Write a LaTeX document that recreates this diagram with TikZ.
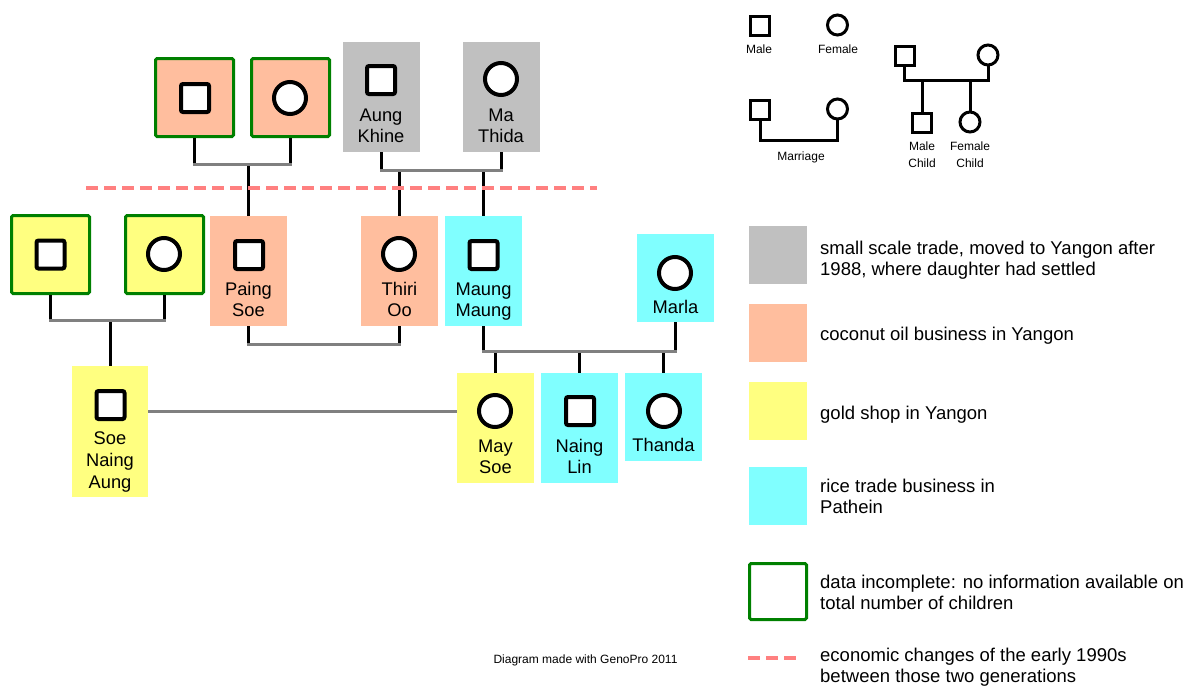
\documentclass[tikz,border=0pt]{standalone}
\usepackage{fontspec}
\setmainfont{Liberation Sans}
\definecolor{peach}{RGB}{255,190,158}
\definecolor{trade}{RGB}{192,192,192}
\definecolor{gold}{RGB}{255,255,128}
\definecolor{rice}{RGB}{128,255,255}
\definecolor{gpgreen}{RGB}{0,128,0}
\definecolor{wedgray}{RGB}{128,128,128}
\definecolor{eraline}{RGB}{255,128,128}
\tikzset{
  card/.style={rectangle, inner sep=0pt, minimum width=77pt, minimum height=110pt},
  nodata/.style={draw=gpgreen, line width=3pt, rounded corners=1.5pt,
                 minimum width=78pt, minimum height=78pt},
  male/.style={rectangle, draw=black, fill=white, line width=4pt, rounded corners=2pt,
               minimum size=28pt, inner sep=0pt},
  female/.style={circle, draw=black, fill=white, line width=4pt,
                 minimum size=32pt, inner sep=0pt},
  lmale/.style={rectangle, draw=black, fill=white, line width=3pt,
                minimum size=19pt, inner sep=0pt},
  lfemale/.style={circle, draw=black, fill=white, line width=3pt,
                  minimum size=20pt, inner sep=0pt},
  pname/.style={font=\fontsize{18.3}{21}\selectfont, align=center, inner sep=0pt, anchor=base},
  legtext/.style={font=\fontsize{18.5}{21}\selectfont, align=left, inner sep=0pt, anchor=base west},
  small/.style={font=\fontsize{12}{17}\selectfont, align=center, inner sep=0pt, anchor=base},
  swatch/.style={rectangle, inner sep=0pt, minimum size=58pt},
  kin/.style={line width=3pt, black},
  wed/.style={line width=3pt, wedgray, line cap=rect},
  lkin/.style={line width=3pt, black, line cap=rect},
  era/.style={line width=4pt, eraline, dash pattern=on 12pt off 6pt}
}
\begin{document}
\begin{tikzpicture}[x=1pt, y=-1pt]
\useasboundingbox (0,0) rectangle (1194,686);

% ---------- family cards (text nodes are placed by their last baseline) ----------
% oldest generation
\node[card, nodata, fill=peach] (p1) at (194.5,97.5) {};
\node[card, nodata, fill=peach] (p2) at (290.5,97.5) {};
\node[male]   (p1s) at (195,98) {};
\node[female] (p2s) at (290,98) {};

\node[card, fill=trade] (ak) at (381,97) {};
\node[card, fill=trade] (mt) at (501.5,97) {};
\node[male]   (aks) at (381,80) {};
\node[female] (mts) at (501,79) {};
\node[pname] (akn) at (381,142) {Aung\\Khine};
\node[pname] (mtn) at (501,142) {Ma\\Thida};

% middle generation
\node[card, nodata, fill=gold] (l1) at (50.5,254.5) {};
\node[card, nodata, fill=gold] (l2) at (164.5,254.5) {};
\node[male]   (l1s) at (50.5,254.5) {};
\node[female] (l2s) at (164,254) {};

\node[card, fill=peach] (ps) at (248.5,271) {};
\node[card, fill=peach] (to) at (399.5,271) {};
\node[card, fill=rice]  (mm) at (483.5,271) {};
\node[card, fill=rice, minimum height=88pt] (ml) at (675.5,278) {};
\node[male]   (pss) at (249,255) {};
\node[female] (tos) at (399,254) {};
\node[male]   (mms) at (483.5,255) {};
\node[female] (mls) at (675,273) {};
\node[pname] (psn) at (248.5,316) {Paing\\Soe};
\node[pname] (ton) at (399.5,316) {Thiri\\Oo};
\node[pname] (mmn) at (483.5,316) {Maung\\Maung};
\node[pname] (mln) at (675.5,313) {Marla};

% youngest generation
\node[card, fill=gold, minimum width=76pt, minimum height=131pt] (sna) at (110,431.5) {};
\node[card, fill=gold] (ms) at (495.5,428) {};
\node[card, fill=rice] (nl) at (579.5,428) {};
\node[card, fill=rice, minimum height=88pt] (th) at (663.5,417) {};
\node[male]   (snas) at (110.5,405) {};
\node[female] (mss)  at (495,411) {};
\node[male]   (nls)  at (580,411) {};
\node[female] (ths)  at (664,411) {};
\node[pname, font=\fontsize{18.3}{22}\selectfont] (snan) at (110,488) {Soe\\Naing\\Aung};
\node[pname] (msn) at (495.5,473) {May\\Soe};
\node[pname] (nln) at (579.5,473) {Naing\\Lin};
\node[pname] (thn) at (663.5,451) {Thanda};

% ---------- marriages and descent ----------
\coordinate (u1) at (0,164);
\draw[kin] (p1.south) -- (p1.south |- u1);
\draw[kin] (p2.south) -- (p2.south |- u1);
\draw[kin] (ps.north |- u1) -- (ps.north);
\draw[wed] (p1.south |- u1) -- (p2.south |- u1);

\coordinate (u2) at (0,170);
\draw[kin] (ak.south) -- (ak.south |- u2);
\draw[kin] (mt.south) -- (mt.south |- u2);
\draw[kin] (to.north |- u2) -- (to.north);
\draw[kin] (mm.north |- u2) -- (mm.north);
\draw[wed] (ak.south |- u2) -- (mt.south |- u2);

\coordinate (u3) at (0,320);
\draw[kin] (l1.south) -- (l1.south |- u3);
\draw[kin] (l2.south) -- (l2.south |- u3);
\draw[kin] (sna.north |- u3) -- (sna.north);
\draw[wed] (l1.south |- u3) -- (l2.south |- u3);

\coordinate (u4) at (0,344);
\draw[kin] (ps.south) -- (ps.south |- u4);
\draw[kin] (to.south) -- (to.south |- u4);
\draw[wed] (ps.south |- u4) -- (to.south |- u4);

\coordinate (u5) at (0,351);
\draw[kin] (mm.south) -- (mm.south |- u5);
\draw[kin] (ml.south) -- (ml.south |- u5);
\draw[kin] (ms.north |- u5) -- (ms.north);
\draw[kin] (nl.north |- u5) -- (nl.north);
\draw[kin] (th.north |- u5) -- (th.north);
\draw[wed] (mm.south |- u5) -- (ml.south |- u5);

\draw[line width=3pt, wedgray] (sna.east |- mss) -- (ms.west |- mss);

% generation divide
\coordinate (e1) at (86,188);
\coordinate (e2) at (597,188);
\draw[era] (e1) -- (e2);

% ---------- key: symbols ----------
\node[lmale]   (km)  at (760,25.5) {};
\node[lfemale] (kf)  at (837.5,25) {};
\node[small] (kml) at (759,53) {Male};
\node[small] (kfl) at (838,53) {Female};

\node[lmale]   (kwm) at (760,110) {};
\node[lfemale] (kwf) at (837.5,109) {};
\coordinate (kw) at (0,140);
\draw[lkin] (kwm.south) -- (kwm.south |- kw) -- (kwf.south |- kw) -- (kwf.south);
\node[small] (kwl) at (801,160) {Marriage};

\node[lmale]   (kpm) at (904.5,56) {};
\node[lfemale] (kpf) at (988,55) {};
\node[lmale]   (kcm) at (922,122.5) {};
\node[lfemale] (kcf) at (970,122) {};
\coordinate (kp) at (0,80);
\draw[lkin] (kpm.south) -- (kpm.south |- kp) -- (kpf.south |- kp) -- (kpf.south);
\draw[kin] (kcm.north |- kp) -- (kcm.north);
\draw[kin] (kcf.north |- kp) -- (kcf.north);
\node[small] (kcml) at (922,167) {Male\\Child};
\node[small] (kcfl) at (970,167) {Female\\Child};

% ---------- key: colours ----------
\node[swatch, fill=trade] (sw1) at (778,255) {};
\node[legtext] (t1) at (820,275) {small scale trade, moved to Yangon after\\1988, where daughter had settled};
\node[swatch, fill=peach] (sw2) at (778,333) {};
\node[legtext] (t2) at (820,340) {coconut oil business in Yangon};
\node[swatch, fill=gold] (sw3) at (778,411) {};
\node[legtext] (t3) at (820,419) {gold shop in Yangon};
\node[swatch, fill=rice] (sw4) at (778,496) {};
\node[legtext] (t4) at (820,513) {rice trade business in\\Pathein};
\node[draw=gpgreen, line width=3pt, rounded corners=1.5pt, minimum width=57pt,
      minimum height=56pt, inner sep=0pt] (sw5) at (778,591.5) {};
\node[legtext] (t5) at (820,609) {data incomplete: no information available on\\total number of children};
\coordinate (d1) at (748,658);
\coordinate (d2) at (796,658);
\draw[era] (d1) -- (d2);
\node[legtext] (t6) at (820,682) {economic changes of the early 1990s\\between those two generations};

\node[small] (credit) at (585.5,663) {Diagram made with GenoPro 2011};
\end{tikzpicture}
\end{document}
